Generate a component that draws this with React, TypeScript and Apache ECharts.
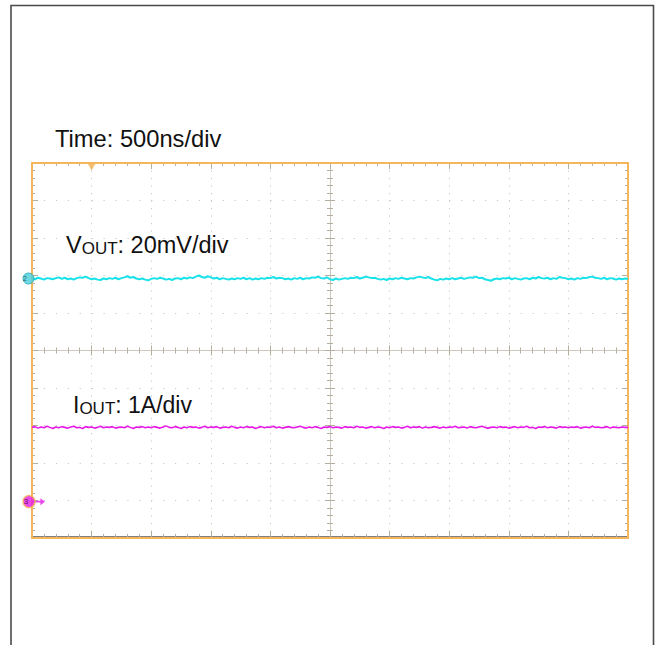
import React, { useEffect, useRef } from "react";
import * as echarts from "echarts";

// Screen: 10 horizontal divisions (500 ns/div), 10 vertical divisions
const timeLabel = "Time: 500ns/div";
const ch2Label = ["V", "OUT", ": 20mV/div"];
const ch3Label = ["I", "OUT", ": 1A/div"];
const sampleStepDiv = 0.05; // 25 ns per sample
const ch2Level = 1.92;
const ch3Level = -4.03;
const triggerPos = -4;

// Channel 2 (VOUT) trace, in divisions
const vout = [
  1.93,1.90,1.94,1.92,1.89,1.93,1.92,1.90,1.93,1.95,1.91,1.94,1.90,1.92,1.89,1.93,1.95,1.94,1.97,1.93,
  1.90,1.92,1.89,1.88,1.92,1.90,1.93,1.91,1.94,1.90,1.93,1.95,1.98,1.94,1.96,1.92,1.90,1.92,1.89,1.87,
  1.91,1.93,1.91,1.94,1.92,1.89,1.91,1.88,1.92,1.93,1.90,1.94,1.92,1.95,1.93,1.97,2.00,1.96,1.94,1.98,
  1.95,1.92,1.94,1.90,1.93,1.91,1.89,1.92,1.90,1.93,1.91,1.94,1.90,1.93,1.89,1.92,1.90,1.93,1.91,1.94,
  1.93,1.96,1.92,1.94,1.93,1.90,1.92,1.89,1.93,1.91,1.94,1.90,1.93,1.92,1.95,1.94,1.97,1.93,1.92,1.95,
  1.90,1.88,1.92,1.89,1.91,1.93,1.91,1.94,1.93,1.96,1.92,1.94,1.97,1.95,1.93,1.94,1.91,1.89,1.91,1.88,
  1.92,1.90,1.93,1.91,1.94,1.92,1.90,1.93,1.92,1.95,1.97,1.95,1.93,1.96,1.92,1.89,1.87,1.91,1.89,1.92,
  1.90,1.93,1.90,1.92,1.94,1.91,1.93,1.95,1.94,1.97,1.93,1.94,1.90,1.88,1.86,1.90,1.92,1.90,1.93,1.92,
  1.94,1.90,1.93,1.91,1.89,1.92,1.93,1.90,1.94,1.92,1.96,1.93,1.92,1.94,1.90,1.93,1.91,1.96,1.94,1.93,
  1.90,1.92,1.89,1.93,1.91,1.94,1.93,1.96,1.97,1.94,1.93,1.91,1.94,1.90,1.93,1.92,1.89,1.92,1.90,1.92,1.91,
];

// Channel 3 (IOUT) trace, in divisions
const iout = [
  -2.05,-2.03,-2.07,-2.04,-2.06,-2.02,-2.05,-2.08,-2.04,-2.06,-2.03,-2.05,-2.07,-2.04,-2.02,-2.06,-2.05,-2.08,-2.03,-2.05,
  -2.04,-2.07,-2.05,-2.02,-2.06,-2.04,-2.05,-2.03,-2.07,-2.05,-2.04,-2.06,-2.02,-2.05,-2.08,-2.04,-2.05,-2.03,-2.06,-2.04,
  -2.06,-2.03,-2.05,-2.07,-2.04,-2.01,-2.05,-2.06,-2.03,-2.05,-2.08,-2.04,-2.06,-2.03,-2.05,-2.04,-2.07,-2.05,-2.02,-2.06,
  -2.04,-2.05,-2.03,-2.07,-2.05,-2.04,-2.06,-2.02,-2.05,-2.07,-2.04,-2.06,-2.03,-2.05,-2.04,-2.08,-2.05,-2.03,-2.06,-2.04,
  -2.05,-2.02,-2.06,-2.04,-2.07,-2.05,-2.03,-2.05,-2.06,-2.04,-2.02,-2.05,-2.07,-2.04,-2.06,-2.03,-2.05,-2.08,-2.04,-2.05,
  -2.03,-2.06,-2.04,-2.05,-2.07,-2.03,-2.05,-2.04,-2.06,-2.02,-2.05,-2.04,-2.07,-2.05,-2.03,-2.06,-2.04,-2.05,-2.08,-2.04,
  -2.06,-2.03,-2.05,-2.04,-2.07,-2.05,-2.02,-2.06,-2.04,-2.05,-2.03,-2.07,-2.04,-2.06,-2.05,-2.03,-2.05,-2.07,-2.04,-2.06,
  -2.04,-2.05,-2.02,-2.06,-2.05,-2.04,-2.07,-2.03,-2.05,-2.06,-2.04,-2.02,-2.05,-2.07,-2.05,-2.04,-2.06,-2.03,-2.05,-2.04,
  -2.07,-2.05,-2.03,-2.06,-2.04,-2.05,-2.02,-2.06,-2.05,-2.08,-2.04,-2.05,-2.03,-2.06,-2.04,-2.05,-2.07,-2.03,-2.05,-2.04,
  -2.06,-2.04,-2.05,-2.03,-2.07,-2.05,-2.04,-2.06,-2.02,-2.05,-2.04,-2.06,-2.05,-2.03,-2.07,-2.04,-2.05,-2.06,-2.04,-2.05,-2.05,
];

const CYAN = "#1ae2ea";
const MAGENTA = "#e61ae6";
const ORANGE = "#f5b55a";
const TICK = "#b4ae9e";
const DOT = "#c9c9c9";
const FONT = "Liberation Sans, Arial, sans-serif";

const GRID = { left: 32, top: 163, width: 596, height: 375 };

function frameX(pos: "top" | "bottom", grid: number, extra: any = {}) {
  return {
    type: "value",
    gridIndex: grid,
    position: pos,
    min: -5,
    max: 5,
    interval: 1,
    axisLabel: { show: false },
    splitLine: { show: false },
    ...extra,
  };
}
function frameY(pos: "left" | "right", grid: number, extra: any = {}) {
  return {
    type: "value",
    gridIndex: grid,
    position: pos,
    min: -5,
    max: 5,
    interval: 1,
    axisLabel: { show: false },
    splitLine: { show: false },
    ...extra,
  };
}

export default function App() {
  const ref = useRef<HTMLDivElement>(null);
  useEffect(() => {
    if (!ref.current) return;
    const chart = echarts.init(ref.current, undefined, { renderer: "svg" });
    const edgeTick = { show: true, inside: true, length: 6, lineStyle: { color: TICK, width: 1 } };
    const edgeMinor = { show: true, splitNumber: 5, length: 3, lineStyle: { color: TICK, width: 1 } };
    const crossTick = { show: true, inside: true, length: 5, lineStyle: { color: TICK, width: 1 } };
    const crossMinor = { show: true, splitNumber: 5, length: 3, lineStyle: { color: TICK, width: 1 } };

    const option: any = {
      animation: false,
      backgroundColor: "#ffffff",
      grid: [
        { ...GRID, show: true, borderColor: ORANGE, borderWidth: 2, backgroundColor: "transparent", z: 1 },
        { ...GRID, show: false },
      ],
      xAxis: [
        frameX("bottom", 0, {
          axisLine: { show: true, onZero: false, lineStyle: { color: "#555555", width: 1.5 } },
          offset: -1,
          axisTick: edgeTick,
          minorTick: edgeMinor,
          splitLine: { show: true, lineStyle: { color: DOT, width: 1, type: [1.2, 6.3] } },
        }),
        frameX("top", 0, {
          axisLine: { show: false, onZero: false },
          axisTick: edgeTick,
          minorTick: edgeMinor,
        }),
        frameX("bottom", 1, {
          axisLine: { show: true, onZero: true, onZeroAxisIndex: 2, lineStyle: { color: "#cdc8bd", width: 1 } },
          axisTick: crossTick,
          minorTick: crossMinor,
        }),
        frameX("top", 1, {
          axisLine: { show: false, onZero: true, onZeroAxisIndex: 3 },
          axisTick: crossTick,
          minorTick: crossMinor,
        }),
      ],
      yAxis: [
        frameY("left", 0, {
          axisLine: { show: false, onZero: false },
          axisTick: edgeTick,
          minorTick: edgeMinor,
          splitLine: { show: true, lineStyle: { color: DOT, width: 1, type: [1.2, 10.72] } },
        }),
        frameY("right", 0, {
          axisLine: { show: false, onZero: false },
          axisTick: edgeTick,
          minorTick: edgeMinor,
        }),
        frameY("left", 1, {
          axisLine: { show: true, onZero: true, onZeroAxisIndex: 2, lineStyle: { color: "#cdc8bd", width: 1 } },
          axisTick: crossTick,
          minorTick: crossMinor,
        }),
        frameY("right", 1, {
          axisLine: { show: false, onZero: true, onZeroAxisIndex: 3 },
          axisTick: crossTick,
          minorTick: crossMinor,
        }),
      ],
      series: [
        {
          type: "line",
          xAxisIndex: 0,
          yAxisIndex: 0,
          data: vout.map((v, i) => [-5 + i * sampleStepDiv, v]),
          showSymbol: false,
          lineStyle: { color: CYAN, width: 2 },
          z: 5,
        },
        {
          type: "line",
          xAxisIndex: 0,
          yAxisIndex: 0,
          data: iout.map((v, i) => [-5 + i * sampleStepDiv, v]),
          showSymbol: false,
          lineStyle: { color: MAGENTA, width: 1.6 },
          z: 5,
        },
        {
          type: "scatter",
          xAxisIndex: 0,
          yAxisIndex: 0,
          clip: false,
          z: 10,
          data: [
            {
              value: [-5, ch2Level],
              symbol: "circle",
              symbolSize: 11,
              symbolOffset: [-3.5, 0],
              itemStyle: { color: "#48cfdc", borderColor: "#22a9b8", borderWidth: 1 },
              label: { show: true, formatter: "2", position: "inside", offset: [-3.5, 0], fontSize: 7, color: "#1a3a44", fontFamily: FONT },
            },
            {
              value: [-5, ch3Level],
              symbol: "path://M0,4 L8,4 L8,1 L13,5 L8,9 L8,6 L0,6 Z",
              symbolSize: [12, 7],
              symbolOffset: [7, 0],
              itemStyle: { color: MAGENTA },
            },
            {
              value: [-5, ch3Level],
              symbol: "circle",
              symbolSize: 12,
              symbolOffset: [-3, 0],
              itemStyle: { color: MAGENTA, borderColor: ORANGE, borderWidth: 1.5 },
              label: { show: true, formatter: "3", position: "inside", offset: [-3, 0], fontSize: 8, color: "#3a0a3a", fontFamily: FONT },
            },
            {
              value: [triggerPos, 5],
              symbol: "triangle",
              symbolRotate: 180,
              symbolSize: [8, 7],
              symbolOffset: [0, 4],
              itemStyle: { color: ORANGE },
            },
          ],
        },
      ],
      graphic: [
        {
          type: "polyline",
          shape: { points: [[11, 650], [11, 5.5], [653.5, 5.5], [653.5, 650]] },
          style: { stroke: "#4a4a4a", lineWidth: 1.6, fill: "none" },
          z: 0,
        },
        {
          type: "text",
          x: 55,
          y: 139,
          style: { text: timeLabel, font: `23.7px ${FONT}`, fill: "#111", verticalAlign: "middle" },
          z: 20,
        },
        {
          type: "text",
          x: 66,
          y: 245,
          style: {
            text: `{a|${ch2Label[0]}}{b|${ch2Label[1]}}{a|${ch2Label[2]}}`,
            verticalAlign: "middle",
            rich: {
              a: { fontSize: 23.5, fontFamily: FONT, fill: "#111", verticalAlign: "bottom" },
              b: { fontSize: 17, fontFamily: FONT, fill: "#111", verticalAlign: "bottom" },
            },
          },
          z: 20,
        },
        {
          type: "text",
          x: 73,
          y: 405,
          style: {
            text: `{a|${ch3Label[0]}}{b|${ch3Label[1]}}{a|${ch3Label[2]}}`,
            verticalAlign: "middle",
            rich: {
              a: { fontSize: 23, fontFamily: FONT, fill: "#111", verticalAlign: "bottom" },
              b: { fontSize: 17, fontFamily: FONT, fill: "#111", verticalAlign: "bottom" },
            },
          },
          z: 20,
        },
      ],
    };
    chart.setOption(option);
    return () => chart.dispose();
  }, []);
  return (
    <div
      ref={ref}
      style={{ position: "absolute", left: 0, top: 0, width: 661, height: 645, background: "#fff" }}
    />
  );
}
